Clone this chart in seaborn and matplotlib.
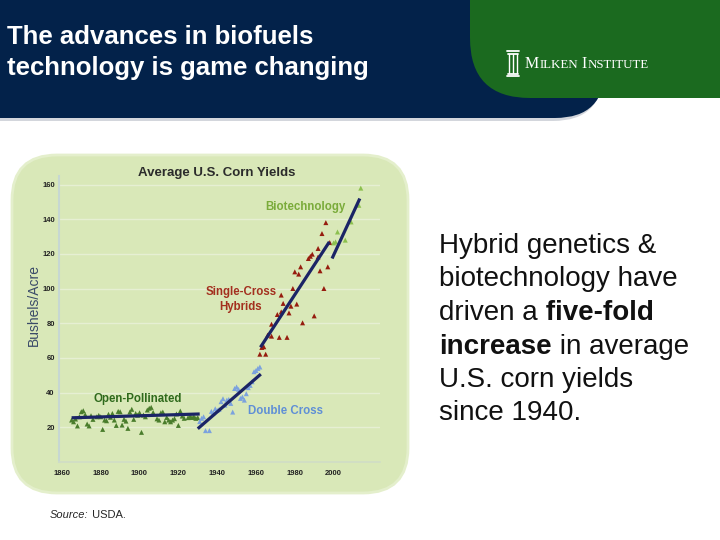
import numpy as np
import pandas as pd
import matplotlib.pyplot as plt
import seaborn as sns
from matplotlib.patches import FancyBboxPatch
from matplotlib.lines import Line2D
from matplotlib.transforms import Affine2D

sns.set_style('white')
plt.rcParams['font.family'] = ['Liberation Sans', 'DejaVu Sans']

# 読み取ったデータ (bushels/acre)
op_years = [1865, 1866, 1867, 1868, 1869, 1870, 1871, 1872, 1873, 1874, 1875, 1876, 1878, 1879,
            1880, 1881, 1882, 1883, 1884, 1885, 1886, 1887, 1888, 1889, 1890, 1891, 1892, 1893,
            1894, 1895, 1896, 1897, 1898, 1899, 1900, 1901, 1902, 1903, 1904, 1905, 1906, 1907,
            1909, 1910, 1911, 1912, 1913, 1914, 1915, 1916, 1917, 1918, 1919, 1920, 1921, 1922,
            1923, 1925, 1926, 1927, 1928, 1929, 1930]
op_vals = [24.2, 23.2, 24.8, 20.8, 26.1, 29.0, 29.6, 27.3, 21.9, 20.8, 26.7, 24.6, 26.1, 26.9,
           26.1, 18.8, 24.2, 23.8, 27.5, 25.8, 28.0, 24.2, 21.1, 29.2, 29.0, 21.3, 24.6, 23.6,
           19.4, 28.8, 30.4, 24.6, 28.0, 27.0, 28.4, 17.1, 27.1, 26.1, 30.0, 31.0, 31.5, 28.6,
           24.9, 24.2, 28.4, 28.8, 23.2, 25.7, 24.2, 23.2, 24.2, 25.0, 27.7, 21.1, 29.4, 26.5,
           25.2, 25.6, 26.1, 25.7, 26.1, 25.2, 25.6]

dc_years = [1931, 1932, 1933, 1934, 1936, 1937, 1938, 1939, 1940, 1941, 1942, 1943, 1944, 1945,
            1946, 1947, 1948, 1949, 1950, 1951, 1952, 1953, 1954, 1955, 1956, 1957, 1958, 1959,
            1960, 1961, 1962]
dc_vals = [23.3, 25.2, 26.1, 18.1, 18.1, 29.2, 28.4, 30.7, 29.8, 30.4, 34.8, 36.5, 32.8, 35.7,
           36.1, 33.8, 28.8, 42.4, 43.3, 41.9, 36.7, 37.5, 35.7, 39.4, 42.9, 44.2, 46.3, 52.1,
           52.8, 54.0, 54.8]

sc_years = [1962, 1963, 1964, 1965, 1966, 1968, 1968, 1971, 1972, 1973, 1973, 1974, 1976, 1977,
            1978, 1979, 1980, 1981, 1982, 1983, 1984, 1987, 1988, 1989, 1990, 1992, 1992, 1993,
            1994, 1995, 1996, 1997, 1998]
sc_vals = [62.2, 66.1, 66.5, 62.2, 73.2, 72.6, 79.5, 85.1, 71.9, 86.6, 96.3, 91.5, 71.9, 86.0,
           89.9, 100.1, 109.7, 91.1, 108.4, 112.6, 80.3, 117.4, 118.7, 119.9, 84.3, 118.3, 123.2,
           110.3, 131.8, 100.1, 138.1, 112.6, 126.6]

bt_years = [2000, 2001, 2002, 2006, 2009, 2013, 2014]
bt_vals = [126.4, 127.0, 132.7, 128.0, 138.5, 148.1, 158.0]

# トレンド線 (始点/終点)
trend_years = [[1865, 1931], [1930, 1962.5], [1962.3, 1997.8], [1999.2, 2013.5]]
trend_vals = [[25.5, 27.7], [19.2, 50.7], [66.2, 127.0], [117.4, 152.0]]

eras = ['Open-Pollinated', 'Double Cross', 'Single-Cross', 'Biotechnology']
era_colors = ['#4a7d2c', '#7ba2de', '#961c0e', '#8cc04e']

df = pd.concat([
    pd.DataFrame({'year': y, 'yield': v, 'era': e})
    for y, v, e in zip([op_years, dc_years, sc_years, bt_years],
                       [op_vals, dc_vals, sc_vals, bt_vals], eras)
], ignore_index=True)

fig = plt.figure(figsize=(7.2, 5.4), dpi=100)
fig.patch.set_facecolor('white')
# 左上原点のピクセル座標
px = Affine2D().scale(0.01, -0.01).translate(0, 5.4) + fig.dpi_scale_trans

# ヘッダー
fig.add_artist(FancyBboxPatch((-60, -57), 663, 178, boxstyle='round,pad=0,rounding_size=50',
                              fc='#d3d6dc', ec='none', transform=px, zorder=0.1))
fig.add_artist(FancyBboxPatch((-60, -60), 665, 178, boxstyle='round,pad=0,rounding_size=50',
                              fc='#03224a', ec='none', transform=px, zorder=0.2))
fig.add_artist(FancyBboxPatch((470, -80), 320, 178, boxstyle='round,pad=0,rounding_size=60',
                              fc='#1b6a1f', ec='none', transform=px, zorder=0.3))

# チャートパネル
fig.add_artist(FancyBboxPatch((12, 155), 396, 338, boxstyle='round,pad=0,rounding_size=45',
                              fc='#d9e8b8', ec='#e4efcc', lw=2, transform=px, zorder=0.3))

# タイトル
fig.text(7, 37, 'The advances in biofuels', transform=px, color='white', fontsize=18.5,
         fontweight='bold', va='center', ha='left')
fig.text(7, 68, 'technology is game changing', transform=px, color='white', fontsize=18.5,
         fontweight='bold', va='center', ha='left')

# ロゴ
for x0, x1, y0, y1 in [(507, 519, 51, 51), (507, 519, 76, 76), (508, 518, 53.5, 53.5),
                       (508, 518, 73.5, 73.5)]:
    fig.add_artist(Line2D([x0, x1], [y0, y1], color='white', lw=1.3, transform=px, zorder=1))
for xc in [509, 513, 517]:
    fig.add_artist(Line2D([xc, xc], [54, 73], color='white', lw=1.0, transform=px, zorder=1))

ax = fig.add_axes([59 / 720, 1 - 462 / 540, 321 / 720, 286 / 540])
ax.set_zorder(2)
ax.patch.set_alpha(0)


def chain(prev, s, y, **kw):
    return ax.annotate(s, xy=(1, y), xycoords=(prev, px), va='baseline', ha='left', **kw)


serif = ['Liberation Serif', 'DejaVu Serif']
t = fig.text(525, 68, 'M', transform=px, color='white', fontsize=11.5, family=serif, va='baseline')
t = chain(t, 'ILKEN', 68, color='white', fontsize=9.3, family=serif)
t = chain(t, ' I', 68, color='white', fontsize=11.5, family=serif)
chain(t, 'NSTITUTE', 68, color='white', fontsize=9.3, family=serif)

# 散布図
sns.scatterplot(data=df, x='year', y='yield', hue='era', palette=dict(zip(eras, era_colors)),
                marker='^', s=13, linewidth=0, legend=False, ax=ax)
for ty, tv in zip(trend_years, trend_vals):
    ax.plot(ty, tv, color='#1b2466', lw=2.3, solid_capstyle='butt')

ax.set_xlim(1858.5, 2023.9)
ax.set_ylim(0, 165)
ax.set_xticks(range(1860, 2001, 20))
ax.set_yticks(range(20, 161, 20))
ax.set_xlabel('')
ax.set_ylabel('')
ax.tick_params(length=0, labelsize=5.5, colors='#222222')
ax.tick_params(axis='y', pad=3)
ax.tick_params(axis='x', pad=6)
for lbl in ax.get_xticklabels() + ax.get_yticklabels():
    lbl.set_fontweight('bold')
ax.grid(axis='y', color='#e6efd3', lw=1.0)
ax.grid(axis='x', visible=False)
for s in ['top', 'right']:
    ax.spines[s].set_visible(False)
ax.spines['left'].set_color('#c6d7d2')
ax.spines['left'].set_linewidth(1.5)
ax.spines['bottom'].set_color('#d0ddc6')
ax.spines['bottom'].set_linewidth(1.2)

ax.set_title('Average U.S. Corn Yields', fontsize=9.5, fontweight='bold', color='#2b2b2b', pad=0)
ax.title.set_position((0.49, 1.0))
fig.text(34, 305, 'Bushels/Acre', transform=px, rotation=90, fontsize=10, color='#3a4a68',
         ha='center', va='center')

# ラベル
ax.text(1985.3, 147, 'Biotechnology', color='#7aab3a', fontsize=8.3, fontweight='bold',
        ha='center', va='center')
ax.text(1952.3, 93.6, 'Single-Cross\nHybrids', color='#a3301e', fontsize=8.3, fontweight='bold',
        ha='center', va='center', linespacing=1.3)
ax.text(1899.2, 36.6, 'Open-Pollinated', color='#2f6a1c', fontsize=8.3, fontweight='bold',
        ha='center', va='center')
ax.text(1975, 29.6, 'Double Cross', color='#5f8fd6', fontsize=8.3, fontweight='bold',
        ha='center', va='center')

# 右側の説明文
fs = 20
fig.text(439, 253, 'Hybrid genetics &', transform=px, fontsize=fs, va='baseline', color='#111111')
fig.text(439, 286.5, 'biotechnology have', transform=px, fontsize=fs, va='baseline', color='#111111')
t = fig.text(439, 320, 'driven a', transform=px, fontsize=fs, va='baseline', color='#111111')
chain(t, ' five-fold', 320, fontsize=fs, fontweight='bold', color='#111111')
t = fig.text(439, 353.5, 'increase', transform=px, fontsize=fs, va='baseline', color='#111111',
             fontweight='bold')
chain(t, ' in average', 353.5, fontsize=fs, color='#111111')
fig.text(439, 387, 'U.S. corn yields', transform=px, fontsize=fs, va='baseline', color='#111111')
fig.text(439, 420, 'since 1940.', transform=px, fontsize=fs, va='baseline', color='#111111')

# 出典
t = fig.text(50, 518, 'Source:', transform=px, fontsize=8, style='italic', va='baseline')
chain(t, ' USDA.', 518, fontsize=8)

fig.savefig('out.png', dpi=100)
